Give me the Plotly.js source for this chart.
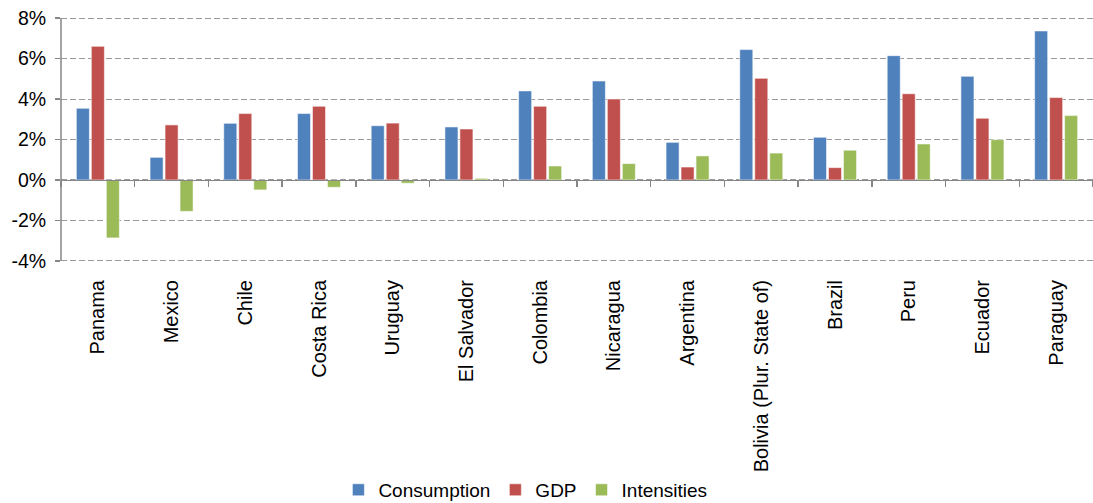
<!DOCTYPE html>
<html>
<head>
<meta charset="utf-8">
<script src="https://cdn.plot.ly/plotly-3.0.1.min.js"></script>
<style>html,body{margin:0;padding:0;background:#fff;}#chart{width:1093px;height:503px;}</style>
</head>
<body>
<div id="chart"></div>
<script>
const countries = ["Panama","Mexico","Chile","Costa Rica","Uruguay","El Salvador","Colombia","Nicaragua","Argentina","Bolivia (Plur. State of)","Brazil","Peru","Ecuador","Paraguay"];
const consumption = [3.54, 1.12, 2.80, 3.28, 2.68, 2.62, 4.40, 4.89, 1.86, 6.44, 2.11, 6.14, 5.12, 7.36];
const gdp = [6.60, 2.72, 3.28, 3.64, 2.81, 2.52, 3.64, 4.00, 0.64, 5.02, 0.61, 4.26, 3.05, 4.07];
const intensities = [-2.86, -1.55, -0.49, -0.36, -0.16, 0.08, 0.69, 0.81, 1.19, 1.33, 1.47, 1.78, 1.99, 3.18];
const yTicks = [-4, -2, 0, 2, 4, 6, 8];

const FONT = "Liberation Sans, Arial, sans-serif";
const edge = {color: "rgba(255,255,255,0.55)", width: 1};

const traces = [
  {type: "bar", name: "Consumption", x: countries, y: consumption, marker: {color: "#4F81BD", line: edge}},
  {type: "bar", name: "GDP", x: countries, y: gdp, marker: {color: "#C0504D", line: edge}},
  {type: "bar", name: "Intensities", x: countries, y: intensities, marker: {color: "#9BBB59", line: edge}},
  {type: "scatter", mode: "markers", x: countries, y: countries.map(() => null), xaxis: "x2", yaxis: "y",
   showlegend: false, hoverinfo: "skip", marker: {opacity: 0}}
];

// padding so the gridlines at 8% and -4% sit inside the plot area
const yMin = -4.1, yMax = 8.1;
const zeroPos = (0 - yMin) / (yMax - yMin);

const layout = {
  width: 1093, height: 503,
  margin: {l: 61, r: 0, t: 16, b: 240},
  paper_bgcolor: "#fff", plot_bgcolor: "#fff",
  font: {family: FONT, size: 19, color: "#000"},
  barmode: "group",
  bargap: 0.39,
  bargroupgap: 0.13,
  showlegend: true,
  legend: {
    orientation: "h", x: 0.45, xanchor: "center", yref: "container", y: 0.026, yanchor: "middle",
    font: {family: FONT, size: 19, color: "#000"}, itemwidth: 30, tracegroupgap: 0
  },
  xaxis: {
    type: "category", categoryorder: "array", categoryarray: countries,
    range: [-0.5, countries.length - 0.5],
    showgrid: false, showline: false, zeroline: false,
    ticks: "", tickangle: -90, ticklabelstandoff: 12,
    tickfont: {family: FONT, size: 20, color: "#000"}
  },
  xaxis2: {
    type: "category", categoryorder: "array", categoryarray: countries,
    overlaying: "x", anchor: "free", position: zeroPos,
    range: [-0.5, countries.length - 0.5],
    showgrid: false, zeroline: false, showline: true, linecolor: "#868686", linewidth: 1.5,
    ticks: "outside", tickson: "boundaries", ticklen: 6, tickcolor: "#868686", tickwidth: 1.5,
    showticklabels: false
  },
  yaxis: {
    range: [yMin, yMax], tickvals: yTicks, ticktext: yTicks.map(v => v + "%"),
    showgrid: true, gridcolor: "#9A9A9A", gridwidth: 1, griddash: "6px,3px",
    zeroline: false, showline: false,
    ticks: "outside", ticklen: 5, tickcolor: "#868686", tickwidth: 1.5, ticklabelstandoff: 5,
    tickfont: {family: FONT, size: 19.5, color: "#000"}
  },
  shapes: [
    {type: "line", xref: "paper", yref: "y", x0: 0, x1: 0, y0: -4, y1: 8,
     line: {color: "#868686", width: 1.5}}
  ]
};

Plotly.newPlot("chart", traces, layout, {staticPlot: true, displayModeBar: false});
</script>
</body>
</html>
